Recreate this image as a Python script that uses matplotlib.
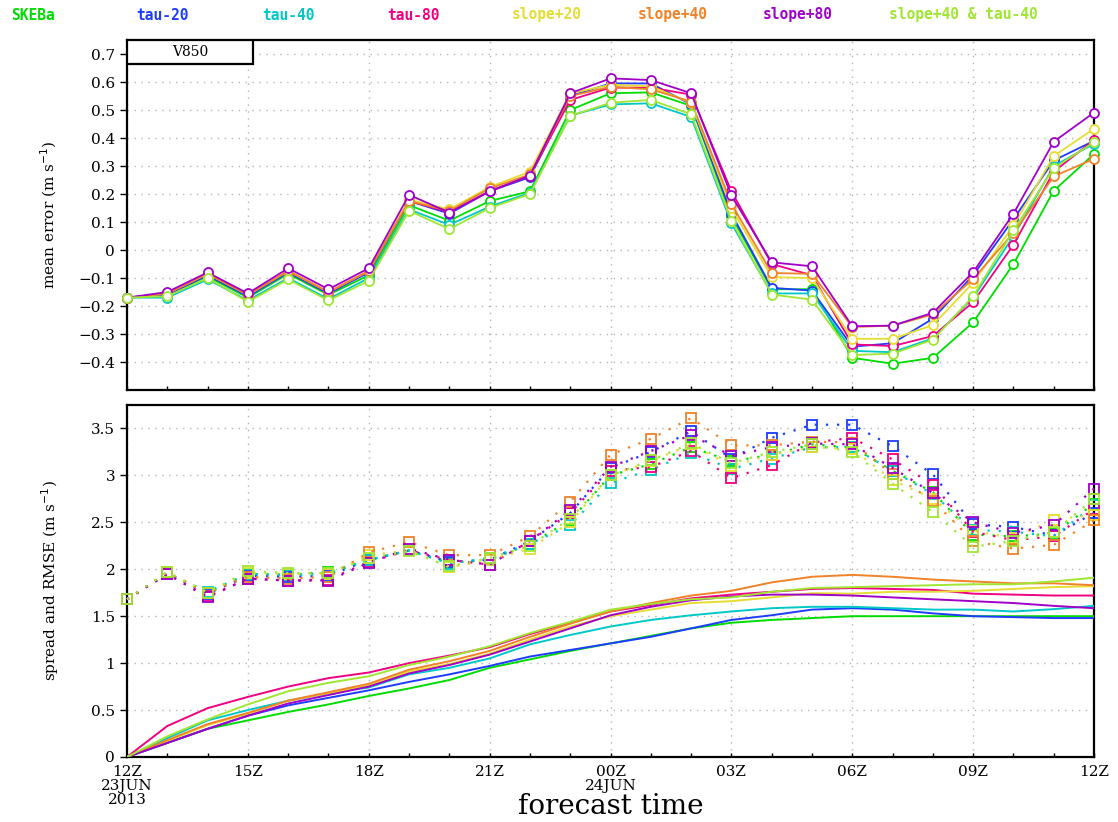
"""Mean error, spread and RMSE of V850 for the SKEB ensemble experiments.

Two panels sharing the forecast-time axis (hourly, 12Z 23JUN -> 12Z 24JUN 2013):
  - top: mean error (open circles)
  - bottom: spread (solid) and RMSE (dotted with open squares)
"""
import matplotlib.pyplot as plt
from matplotlib.patches import Rectangle

HOURS = list(range(25))

EXPERIMENTS = ["SKEBa", "tau-20", "tau-40", "tau-80",
               "slope+20", "slope+40", "slope+80", "slope+40 & tau-40"]
COLORS = ["#00dc00", "#1e3cff", "#00c8c8", "#f00082",
          "#e6dc32", "#f08228", "#a000c8", "#a0e632"]

XTICKS = [0, 3, 6, 9, 12, 15, 18, 21, 24]
XTICK_LABELS = ["12Z\n23JUN\n2013", "15Z", "18Z", "21Z", "00Z\n24JUN",
                "03Z", "06Z", "09Z", "12Z"]

# mean error (m/s)
me_skeba = [-0.17, -0.16, -0.095, -0.17, -0.085, -0.16, -0.09, 0.16, 0.105, 0.175, 0.21, 0.50, 0.56,
            0.563, 0.515, 0.12, -0.14, -0.14, -0.385, -0.406, -0.385, -0.258, -0.05, 0.212, 0.343]
me_tau20 = [-0.17, -0.16, -0.09, -0.165, -0.08, -0.155, -0.08, 0.175, 0.13, 0.21, 0.26, 0.55, 0.595,
            0.595, 0.52, 0.13, -0.135, -0.145, -0.345, -0.333, -0.245, -0.09, 0.11, 0.32, 0.39]
me_tau40 = [-0.17, -0.17, -0.105, -0.18, -0.10, -0.175, -0.10, 0.145, 0.09, 0.155, 0.205, 0.48, 0.52,
            0.524, 0.475, 0.095, -0.155, -0.155, -0.36, -0.365, -0.315, -0.17, 0.05, 0.30, 0.38]
me_tau80 = [-0.17, -0.155, -0.085, -0.16, -0.075, -0.15, -0.075, 0.175, 0.135, 0.21, 0.265, 0.536, 0.58,
            0.58, 0.555, 0.21, -0.05, -0.09, -0.337, -0.343, -0.307, -0.186, 0.019, 0.28, 0.393]
me_slope20 = [-0.17, -0.155, -0.085, -0.16, -0.075, -0.15, -0.075, 0.18, 0.145, 0.225, 0.28, 0.56, 0.59,
              0.585, 0.525, 0.15, -0.097, -0.10, -0.317, -0.317, -0.268, -0.117, 0.088, 0.336, 0.433]
me_slope40 = [-0.17, -0.155, -0.085, -0.16, -0.075, -0.15, -0.075, 0.175, 0.14, 0.22, 0.27, 0.55, 0.583,
              0.574, 0.53, 0.165, -0.082, -0.085, -0.275, -0.27, -0.23, -0.103, 0.061, 0.263, 0.326]
me_slope80 = [-0.17, -0.15, -0.08, -0.155, -0.065, -0.14, -0.065, 0.197, 0.134, 0.21, 0.266, 0.56, 0.613,
              0.607, 0.56, 0.195, -0.044, -0.058, -0.272, -0.27, -0.224, -0.079, 0.13, 0.387, 0.491]
me_s40t40 = [-0.17, -0.165, -0.10, -0.185, -0.105, -0.18, -0.11, 0.14, 0.075, 0.15, 0.20, 0.479, 0.526,
             0.536, 0.485, 0.105, -0.159, -0.177, -0.375, -0.37, -0.32, -0.165, 0.07, 0.293, 0.385]

# ensemble spread (m/s)
sp_skeba = [0, 0.15, 0.30, 0.39, 0.48, 0.56, 0.65, 0.73, 0.82, 0.95, 1.04, 1.13, 1.21,
            1.29, 1.37, 1.43, 1.46, 1.48, 1.50, 1.50, 1.50, 1.50, 1.50, 1.50, 1.50]
sp_tau20 = [0, 0.15, 0.30, 0.44, 0.55, 0.63, 0.71, 0.80, 0.88, 0.97, 1.07, 1.14, 1.21,
            1.28, 1.37, 1.46, 1.51, 1.57, 1.585, 1.57, 1.53, 1.50, 1.49, 1.48, 1.48]
sp_tau40 = [0, 0.20, 0.39, 0.50, 0.60, 0.68, 0.74, 0.88, 0.95, 1.05, 1.20, 1.30, 1.39,
            1.46, 1.51, 1.55, 1.585, 1.60, 1.60, 1.585, 1.57, 1.57, 1.55, 1.575, 1.61]
sp_tau80 = [0, 0.33, 0.52, 0.64, 0.75, 0.84, 0.90, 1.00, 1.08, 1.17, 1.31, 1.43, 1.55,
            1.62, 1.69, 1.73, 1.76, 1.79, 1.80, 1.79, 1.78, 1.74, 1.73, 1.72, 1.72]
sp_slope20 = [0, 0.17, 0.34, 0.46, 0.60, 0.68, 0.76, 0.91, 0.99, 1.10, 1.25, 1.39, 1.50,
              1.57, 1.64, 1.66, 1.70, 1.745, 1.74, 1.76, 1.76, 1.77, 1.79, 1.81, 1.82]
sp_slope40 = [0, 0.18, 0.35, 0.47, 0.60, 0.69, 0.78, 0.93, 1.02, 1.13, 1.28, 1.42, 1.55,
              1.64, 1.72, 1.77, 1.86, 1.92, 1.94, 1.92, 1.89, 1.87, 1.85, 1.85, 1.83]
sp_slope80 = [0, 0.15, 0.30, 0.44, 0.57, 0.66, 0.75, 0.89, 0.98, 1.09, 1.23, 1.37, 1.51,
              1.60, 1.67, 1.71, 1.73, 1.73, 1.72, 1.70, 1.68, 1.66, 1.64, 1.61, 1.585]
sp_s40t40 = [0, 0.22, 0.40, 0.56, 0.70, 0.79, 0.86, 0.98, 1.07, 1.18, 1.32, 1.44, 1.57,
             1.63, 1.68, 1.70, 1.76, 1.80, 1.81, 1.82, 1.83, 1.84, 1.84, 1.87, 1.91]

# RMSE (m/s)
rm_skeba = [1.68, 1.96, 1.75, 1.95, 1.94, 1.97, 2.10, 2.20, 2.07, 2.10, 2.27, 2.52, 3.00,
            3.12, 3.30, 3.15, 3.22, 3.33, 3.30, 3.05, 2.82, 2.37, 2.35, 2.38, 2.70]
rm_tau20 = [1.68, 1.96, 1.74, 1.93, 1.92, 1.93, 2.10, 2.20, 2.08, 2.10, 2.30, 2.60, 3.08,
            3.25, 3.47, 3.18, 3.40, 3.54, 3.54, 3.31, 3.01, 2.48, 2.45, 2.36, 2.60]
rm_tau40 = [1.68, 1.96, 1.76, 1.95, 1.94, 1.95, 2.10, 2.20, 2.06, 2.12, 2.27, 2.47, 2.92,
            3.06, 3.24, 3.07, 3.18, 3.30, 3.30, 3.05, 2.80, 2.42, 2.40, 2.35, 2.68]
rm_tau80 = [1.68, 1.95, 1.71, 1.90, 1.88, 1.89, 2.08, 2.20, 2.10, 2.05, 2.30, 2.60, 3.05,
            3.09, 3.26, 2.97, 3.11, 3.35, 3.40, 3.17, 2.90, 2.40, 2.31, 2.35, 2.64]
rm_slope20 = [1.68, 1.97, 1.75, 1.96, 1.95, 1.95, 2.15, 2.20, 2.02, 2.10, 2.22, 2.50, 3.00,
              3.15, 3.33, 3.10, 3.22, 3.30, 3.28, 2.95, 2.75, 2.41, 2.33, 2.53, 2.58]
rm_slope40 = [1.68, 1.96, 1.75, 1.92, 1.90, 1.92, 2.18, 2.29, 2.15, 2.15, 2.35, 2.72, 3.22,
              3.39, 3.61, 3.32, 3.32, 3.36, 3.35, 3.01, 2.73, 2.30, 2.22, 2.26, 2.52]
rm_slope80 = [1.68, 1.95, 1.70, 1.90, 1.88, 1.88, 2.07, 2.22, 2.10, 2.05, 2.30, 2.63, 3.09,
              3.26, 3.43, 3.21, 3.30, 3.34, 3.33, 3.08, 2.81, 2.50, 2.39, 2.47, 2.86]
rm_s40t40 = [1.68, 1.97, 1.75, 1.98, 1.96, 1.96, 2.12, 2.19, 2.03, 2.12, 2.25, 2.54, 3.00,
             3.16, 3.34, 3.13, 3.25, 3.33, 3.25, 2.91, 2.61, 2.24, 2.30, 2.40, 2.75]

MEAN_ERROR = [me_skeba, me_tau20, me_tau40, me_tau80, me_slope20, me_slope40, me_slope80, me_s40t40]
SPREAD = [sp_skeba, sp_tau20, sp_tau40, sp_tau80, sp_slope20, sp_slope40, sp_slope80, sp_s40t40]
RMSE = [rm_skeba, rm_tau20, rm_tau40, rm_tau80, rm_slope20, rm_slope40, rm_slope80, rm_s40t40]

ME_TICKS = [-0.4, -0.3, -0.2, -0.1, 0, 0.1, 0.2, 0.3, 0.4, 0.5, 0.6, 0.7]
SR_TICKS = [0, 0.5, 1, 1.5, 2, 2.5, 3, 3.5]

SERIF = "DejaVu Serif"


def fmt(v):
    s = f"{v:g}"
    return s.replace("-", "\u2212")


def style_axes(ax, yticks):
    ax.set_xlim(0, 24)
    ax.set_xticks(XTICKS)
    ax.set_xticks(HOURS, minor=True)
    ax.set_yticks(yticks)
    ax.set_yticklabels([fmt(v) for v in yticks], family=SERIF, fontsize=11)
    ax.grid(True, which="major", color="#b4b4b4", linestyle=(0, (1, 4)), linewidth=1.0)
    ax.tick_params(axis="y", direction="out", length=5, width=1)
    ax.tick_params(axis="x", which="both", direction="in", length=3, width=1)
    for sp in ax.spines.values():
        sp.set_linewidth(1.6)


def main():
    fig = plt.figure(figsize=(11.18, 8.22), dpi=100)
    ax_me = fig.add_axes([0.1136, 0.5255, 0.865, 0.4258])
    ax_sr = fig.add_axes([0.1136, 0.0791, 0.865, 0.4282])

    for name, color, vals in zip(EXPERIMENTS, COLORS, MEAN_ERROR):
        ax_me.plot(HOURS, vals, color=color, lw=1.3, marker="o", ms=6.5,
                   mfc="white", mec=color, mew=1.3, clip_on=False, zorder=3)
    style_axes(ax_me, ME_TICKS)
    ax_me.set_ylim(-0.5, 0.75)
    ax_me.set_xticklabels([])
    ax_me.set_ylabel("mean error (m s$^{-1}$)", family=SERIF, fontsize=11, labelpad=14)
    ax_me.add_patch(Rectangle((0, 0.931), 0.130, 0.069, transform=ax_me.transAxes,
                              facecolor="white", edgecolor="black", lw=1.6, zorder=5))
    ax_me.text(0.065, 0.965, "V850", transform=ax_me.transAxes, ha="center", va="center",
               family=SERIF, fontsize=10, zorder=6)

    for name, color, vals in zip(EXPERIMENTS, COLORS, SPREAD):
        ax_sr.plot(HOURS, vals, color=color, lw=1.4, zorder=3)
    for name, color, vals in zip(EXPERIMENTS, COLORS, RMSE):
        ax_sr.plot(HOURS, vals, color=color, lw=1.6, linestyle=(0, (1, 4)),
                   marker="s", ms=7, mfc="none", mec=color, mew=1.3, clip_on=False, zorder=3)
    style_axes(ax_sr, SR_TICKS)
    ax_sr.set_ylim(0, 3.75)
    ax_sr.set_xticklabels(XTICK_LABELS, family=SERIF, fontsize=11, linespacing=1.0)
    ax_sr.tick_params(axis="x", pad=6)
    ax_sr.set_ylabel("spread and RMSE (m s$^{-1}$)", family=SERIF, fontsize=11, labelpad=22)
    ax_sr.set_xlabel("forecast time", family=SERIF, fontsize=20, labelpad=-10)

    # legend as coloured text across the top
    xpos = [11, 136, 262, 387, 512, 638, 763, 889]
    for x, name, color in zip(xpos, EXPERIMENTS, COLORS):
        fig.text(x / 1118, 1 - 15 / 822, name, color=color, ha="left", va="center",
                 family="DejaVu Sans Mono", fontsize=10.5, fontweight="bold")

    fig.savefig("out.png", dpi=100)
    plt.close(fig)


if __name__ == "__main__":
    main()
